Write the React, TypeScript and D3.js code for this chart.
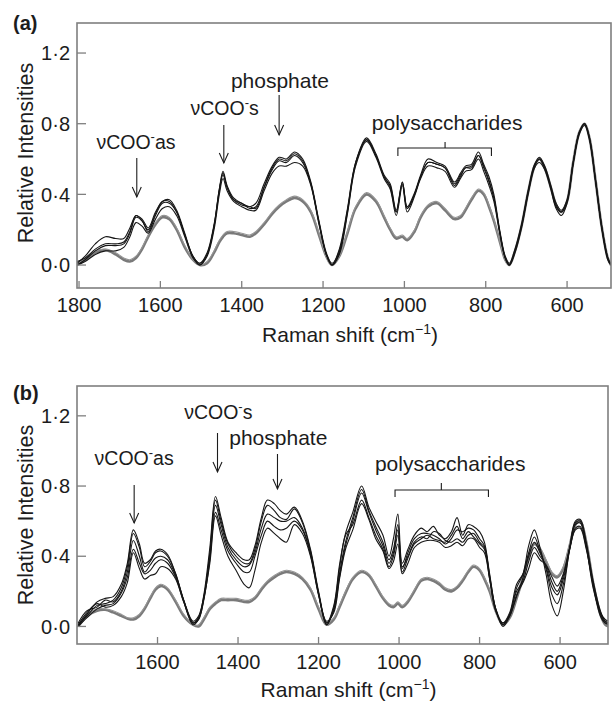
import React from 'react';
import * as d3 from 'd3';

// ---------- Panel (a) data ----------
const A_X = [
  1805, 1785, 1760, 1735, 1710, 1690, 1675, 1660, 1645, 1630,
  1612, 1595, 1578, 1560, 1540, 1520, 1503, 1485, 1468, 1455,
  1446, 1436, 1420, 1400, 1380, 1365, 1345, 1325, 1308, 1290,
  1270, 1250, 1230, 1210, 1192, 1178, 1160, 1140, 1120, 1093,
  1070, 1050, 1035, 1020, 1005, 993, 975, 960, 942, 920,
  900, 877, 862, 850, 835, 818, 805, 792, 780, 765,
  752, 742, 728, 712, 695, 680, 668, 655, 640, 627,
  614, 600, 585, 570, 557, 545, 530, 515, 500, 492,
];
const A_BLACK_1 = [
  0.00, 0.03, 0.08, 0.11, 0.11, 0.12, 0.18, 0.27, 0.25, 0.19,
  0.28, 0.35, 0.35, 0.30, 0.17, 0.05, 0.00, 0.06, 0.22, 0.42,
  0.52, 0.44, 0.37, 0.35, 0.32, 0.33, 0.44, 0.54, 0.59, 0.58,
  0.62, 0.58, 0.46, 0.24, 0.06, 0.00, 0.07, 0.30, 0.57, 0.71,
  0.62, 0.50, 0.45, 0.30, 0.47, 0.32, 0.40, 0.50, 0.58, 0.57,
  0.55, 0.45, 0.50, 0.55, 0.55, 0.62, 0.55, 0.47, 0.38, 0.18,
  0.04, 0.00, 0.08, 0.22, 0.42, 0.56, 0.60, 0.55, 0.44, 0.34,
  0.30, 0.36, 0.58, 0.75, 0.80, 0.72, 0.48, 0.22, 0.04, 0.00,
];
const A_BLACK_2 = [
  0.01, 0.05, 0.12, 0.16, 0.15, 0.15, 0.21, 0.28, 0.26, 0.21,
  0.30, 0.36, 0.37, 0.31, 0.18, 0.05, 0.01, 0.07, 0.23, 0.43,
  0.53, 0.45, 0.38, 0.35, 0.33, 0.35, 0.46, 0.56, 0.61, 0.60,
  0.64, 0.60, 0.47, 0.25, 0.07, 0.01, 0.08, 0.31, 0.58, 0.72,
  0.63, 0.51, 0.46, 0.31, 0.47, 0.33, 0.41, 0.51, 0.60, 0.58,
  0.56, 0.47, 0.52, 0.56, 0.57, 0.64, 0.57, 0.50, 0.40, 0.19,
  0.05, 0.01, 0.09, 0.23, 0.43, 0.57, 0.61, 0.56, 0.45, 0.35,
  0.31, 0.37, 0.58, 0.75, 0.80, 0.72, 0.48, 0.22, 0.04, 0.00,
];
const A_BLACK_3 = [
  0.00, 0.02, 0.06, 0.08, 0.08, 0.10, 0.16, 0.24, 0.22, 0.18,
  0.26, 0.32, 0.33, 0.28, 0.16, 0.04, 0.00, 0.05, 0.20, 0.40,
  0.49, 0.42, 0.36, 0.33, 0.31, 0.31, 0.42, 0.52, 0.56, 0.56,
  0.58, 0.56, 0.45, 0.23, 0.06, 0.00, 0.06, 0.29, 0.56, 0.70,
  0.61, 0.49, 0.43, 0.28, 0.45, 0.30, 0.39, 0.49, 0.56, 0.55,
  0.53, 0.44, 0.49, 0.53, 0.54, 0.60, 0.53, 0.45, 0.36, 0.17,
  0.04, 0.00, 0.07, 0.21, 0.41, 0.55, 0.58, 0.54, 0.43, 0.32,
  0.28, 0.35, 0.57, 0.74, 0.79, 0.71, 0.47, 0.21, 0.03, 0.00,
];
const A_BLACK_4 = [
  0.02, 0.04, 0.09, 0.12, 0.12, 0.13, 0.19, 0.28, 0.25, 0.20,
  0.29, 0.36, 0.36, 0.30, 0.17, 0.05, 0.01, 0.06, 0.22, 0.43,
  0.51, 0.44, 0.37, 0.34, 0.33, 0.32, 0.44, 0.55, 0.60, 0.59,
  0.63, 0.59, 0.46, 0.24, 0.06, 0.00, 0.09, 0.32, 0.58, 0.71,
  0.62, 0.50, 0.44, 0.30, 0.46, 0.32, 0.40, 0.50, 0.58, 0.57,
  0.55, 0.46, 0.51, 0.55, 0.56, 0.62, 0.56, 0.48, 0.38, 0.18,
  0.04, 0.00, 0.08, 0.22, 0.42, 0.56, 0.60, 0.55, 0.44, 0.33,
  0.30, 0.36, 0.58, 0.75, 0.80, 0.72, 0.48, 0.22, 0.04, 0.00,
];
const A_GRAY_1 = [
  0.00, 0.03, 0.07, 0.085, 0.06, 0.03, 0.02, 0.04, 0.09, 0.16,
  0.23, 0.27, 0.26, 0.20, 0.10, 0.03, 0.00, 0.01, 0.07, 0.13,
  0.16, 0.18, 0.18, 0.17, 0.16, 0.18, 0.23, 0.29, 0.33, 0.36,
  0.38, 0.36, 0.30, 0.17, 0.05, 0.00, 0.05, 0.18, 0.32, 0.40,
  0.36, 0.27, 0.20, 0.15, 0.16, 0.14, 0.19, 0.27, 0.33, 0.35,
  0.31, 0.26, 0.27, 0.31, 0.37, 0.42, 0.40, 0.33, 0.25, 0.13,
  0.03, 0.00, 0.08, 0.22, 0.42, 0.56, 0.60, 0.55, 0.44, 0.34,
  0.30, 0.36, 0.58, 0.75, 0.80, 0.72, 0.48, 0.22, 0.04, 0.00,
];
const A_GRAY_2 = [
  0.01, 0.04, 0.08, 0.09, 0.07, 0.04, 0.03, 0.05, 0.10, 0.17,
  0.24, 0.28, 0.27, 0.21, 0.11, 0.03, 0.00, 0.02, 0.08, 0.14,
  0.17, 0.19, 0.19, 0.18, 0.17, 0.19, 0.24, 0.30, 0.34, 0.37,
  0.39, 0.37, 0.31, 0.18, 0.05, 0.00, 0.05, 0.19, 0.33, 0.41,
  0.37, 0.28, 0.21, 0.16, 0.17, 0.15, 0.20, 0.28, 0.34, 0.36,
  0.32, 0.27, 0.28, 0.32, 0.38, 0.43, 0.41, 0.34, 0.26, 0.13,
  0.03, 0.00, 0.08, 0.22, 0.42, 0.56, 0.60, 0.55, 0.44, 0.34,
  0.30, 0.36, 0.58, 0.75, 0.80, 0.72, 0.48, 0.22, 0.04, 0.00,
];

// ---------- Panel (b) data ----------
const B_X = [
  1797, 1775, 1750, 1730, 1710, 1690, 1675, 1660, 1645, 1632,
  1618, 1605, 1592, 1575, 1555, 1535, 1512, 1498, 1485, 1470,
  1456, 1442, 1425, 1405, 1385, 1372, 1358, 1342, 1327, 1310,
  1295, 1280, 1260, 1240, 1220, 1200, 1180, 1162, 1148, 1133,
  1115, 1093, 1075, 1058, 1040, 1025, 1014, 1003, 992, 978,
  962, 945, 930, 915, 900, 885, 870, 856, 842, 828,
  815, 800, 788, 775, 760, 742, 725, 708, 692, 678,
  664, 650, 635, 620, 607, 592, 576, 562, 550, 535,
  518, 500, 488, 479,
];
const B_BLACK_1 = [
  0.00, 0.07, 0.14, 0.16, 0.17, 0.24, 0.36, 0.55, 0.47, 0.36,
  0.38, 0.43, 0.44, 0.41, 0.30, 0.15, 0.02, 0.05, 0.18, 0.45,
  0.74, 0.62, 0.48, 0.42, 0.38, 0.38, 0.46, 0.62, 0.72, 0.70,
  0.66, 0.64, 0.68, 0.60, 0.44, 0.20, 0.02, 0.12, 0.35, 0.53,
  0.65, 0.80, 0.68, 0.60, 0.52, 0.40, 0.50, 0.64, 0.36, 0.44,
  0.52, 0.56, 0.54, 0.57, 0.52, 0.50, 0.54, 0.62, 0.52, 0.58,
  0.57, 0.54, 0.48, 0.30, 0.10, 0.01, 0.07, 0.22, 0.30, 0.46,
  0.55, 0.45, 0.30, 0.12, 0.06, 0.20, 0.45, 0.60, 0.61, 0.48,
  0.25, 0.08, 0.03, 0.02,
];
const B_BLACK_2 = [
  0.01, 0.06, 0.12, 0.13, 0.15, 0.22, 0.34, 0.53, 0.45, 0.34,
  0.37, 0.42, 0.43, 0.40, 0.30, 0.15, 0.02, 0.04, 0.16, 0.42,
  0.72, 0.60, 0.47, 0.40, 0.36, 0.36, 0.44, 0.60, 0.69, 0.66,
  0.62, 0.61, 0.67, 0.59, 0.43, 0.19, 0.01, 0.10, 0.30, 0.48,
  0.62, 0.78, 0.66, 0.57, 0.48, 0.38, 0.44, 0.58, 0.33, 0.42,
  0.50, 0.53, 0.53, 0.52, 0.50, 0.47, 0.50, 0.55, 0.54, 0.56,
  0.55, 0.50, 0.46, 0.29, 0.10, 0.00, 0.06, 0.17, 0.28, 0.42,
  0.51, 0.43, 0.33, 0.18, 0.13, 0.24, 0.44, 0.59, 0.60, 0.47,
  0.26, 0.09, 0.03, 0.02,
];
const B_BLACK_3 = [
  0.02, 0.09, 0.11, 0.15, 0.14, 0.20, 0.31, 0.49, 0.40, 0.31,
  0.35, 0.39, 0.40, 0.38, 0.29, 0.15, 0.03, 0.06, 0.17, 0.40,
  0.69, 0.58, 0.45, 0.38, 0.34, 0.35, 0.42, 0.56, 0.64, 0.62,
  0.60, 0.60, 0.62, 0.56, 0.42, 0.19, 0.02, 0.09, 0.28, 0.46,
  0.60, 0.76, 0.65, 0.55, 0.46, 0.36, 0.42, 0.55, 0.34, 0.40,
  0.48, 0.51, 0.50, 0.54, 0.53, 0.49, 0.48, 0.50, 0.48, 0.52,
  0.53, 0.48, 0.45, 0.28, 0.09, 0.02, 0.08, 0.24, 0.30, 0.40,
  0.48, 0.42, 0.34, 0.22, 0.18, 0.27, 0.45, 0.58, 0.59, 0.46,
  0.24, 0.07, 0.02, 0.01,
];
const B_BLACK_4 = [
  0.00, 0.05, 0.10, 0.12, 0.13, 0.19, 0.28, 0.44, 0.36, 0.30,
  0.32, 0.36, 0.38, 0.36, 0.28, 0.14, 0.01, 0.04, 0.15, 0.38,
  0.65, 0.55, 0.43, 0.36, 0.31, 0.31, 0.40, 0.52, 0.60, 0.57,
  0.55, 0.56, 0.60, 0.55, 0.41, 0.18, 0.01, 0.11, 0.33, 0.52,
  0.58, 0.72, 0.62, 0.52, 0.44, 0.34, 0.40, 0.52, 0.31, 0.39,
  0.47, 0.50, 0.52, 0.50, 0.49, 0.48, 0.52, 0.57, 0.50, 0.54,
  0.51, 0.47, 0.44, 0.27, 0.10, 0.01, 0.07, 0.20, 0.26, 0.37,
  0.45, 0.40, 0.35, 0.25, 0.20, 0.29, 0.44, 0.56, 0.57, 0.45,
  0.22, 0.08, 0.04, 0.03,
];
const B_BLACK_5 = [
  0.01, 0.08, 0.13, 0.11, 0.12, 0.17, 0.25, 0.42, 0.33, 0.27,
  0.29, 0.30, 0.34, 0.33, 0.27, 0.14, 0.02, 0.05, 0.16, 0.36,
  0.63, 0.52, 0.40, 0.32, 0.24, 0.22, 0.32, 0.48, 0.56, 0.53,
  0.50, 0.48, 0.58, 0.53, 0.40, 0.18, 0.03, 0.08, 0.27, 0.44,
  0.55, 0.70, 0.61, 0.50, 0.43, 0.33, 0.37, 0.47, 0.30, 0.36,
  0.45, 0.48, 0.49, 0.49, 0.48, 0.45, 0.46, 0.48, 0.46, 0.50,
  0.50, 0.45, 0.42, 0.27, 0.09, 0.02, 0.06, 0.18, 0.25, 0.33,
  0.42, 0.38, 0.35, 0.28, 0.23, 0.30, 0.45, 0.55, 0.56, 0.44,
  0.24, 0.06, 0.02, 0.02,
];
const B_GRAY_1 = [
  0.00, 0.06, 0.09, 0.095, 0.08, 0.06, 0.045, 0.04, 0.06, 0.10,
  0.16, 0.21, 0.23, 0.21, 0.14, 0.06, 0.01, 0.00, 0.04, 0.10,
  0.13, 0.15, 0.15, 0.15, 0.14, 0.14, 0.16, 0.21, 0.25, 0.28,
  0.30, 0.31, 0.30, 0.27, 0.21, 0.10, 0.01, 0.04, 0.11, 0.19,
  0.27, 0.31, 0.29, 0.23, 0.16, 0.12, 0.11, 0.13, 0.11, 0.14,
  0.20, 0.26, 0.27, 0.26, 0.24, 0.21, 0.20, 0.22, 0.26, 0.31,
  0.34, 0.32, 0.27, 0.20, 0.09, 0.01, 0.05, 0.16, 0.28, 0.40,
  0.47, 0.44, 0.37, 0.30, 0.28, 0.33, 0.46, 0.58, 0.60, 0.48,
  0.25, 0.07, 0.01, 0.00,
];
const B_GRAY_2 = [
  0.01, 0.07, 0.10, 0.10, 0.09, 0.07, 0.05, 0.05, 0.07, 0.11,
  0.17, 0.22, 0.24, 0.22, 0.15, 0.07, 0.01, 0.01, 0.05, 0.11,
  0.14, 0.16, 0.16, 0.16, 0.15, 0.15, 0.17, 0.22, 0.26, 0.29,
  0.31, 0.32, 0.31, 0.28, 0.22, 0.11, 0.02, 0.05, 0.12, 0.20,
  0.28, 0.32, 0.30, 0.24, 0.17, 0.13, 0.12, 0.14, 0.12, 0.15,
  0.21, 0.27, 0.28, 0.27, 0.25, 0.22, 0.21, 0.23, 0.27, 0.32,
  0.35, 0.33, 0.28, 0.21, 0.10, 0.02, 0.06, 0.17, 0.29, 0.41,
  0.48, 0.45, 0.38, 0.31, 0.29, 0.34, 0.47, 0.59, 0.61, 0.49,
  0.26, 0.08, 0.02, 0.01,
];

// ---------- Ticks ----------
const Y_TICKS = [0, 0.4, 0.8, 1.2];
const Y_TICK_LABELS = ['0·0', '0·4', '0·8', '1·2'];
const A_X_TICKS = [1800, 1600, 1400, 1200, 1000, 800, 600];
const B_X_TICKS = [1600, 1400, 1200, 1000, 800, 600];

const FONT = "'Liberation Sans', Arial, Helvetica, sans-serif";
const FRAME = '#7f7f7f';
const INK = '#1c1c1c';

type Arrow = { cm: number; y1: number; y2: number };
type Ann = { cm: number; y: number; kind: 'as' | 's' | 'text'; text?: string };
type Bracket = { cm1: number; cm2: number; cmMid: number; y: number; yEnd: number; yTop: number };

type PanelCfg = {
  letter: string;
  letterY: number;
  left: number; right: number; top: number; bottom: number;
  xDomain: [number, number];
  yDomain: [number, number];
  xs: number[];
  blacks: number[][];
  grays: number[][];
  xTicks: number[];
  tickLabelY: number;
  xTitleY: number;
  yTitleMid: number;
  anns: Ann[];
  arrows: Arrow[];
  bracket: Bracket;
};

function Panel({ cfg }: { cfg: PanelCfg }) {
  const x = d3.scaleLinear().domain(cfg.xDomain).range([cfg.left, cfg.right]);
  const y = d3.scaleLinear().domain(cfg.yDomain).range([cfg.bottom, cfg.top]);
  const mk = (vals: number[]) =>
    d3
      .line<number>()
      .x((_, i) => x(cfg.xs[i]))
      .y((v) => y(v))
      .curve(d3.curveCatmullRom.alpha(0.5))(vals) || '';
  const cx = (cfg.left + cfg.right) / 2;
  return (
    <g fontFamily={FONT}>
      <defs>
        <clipPath id={'clip' + cfg.letter}>
          <rect x={cfg.left} y={cfg.top} width={cfg.right - cfg.left} height={cfg.bottom - cfg.top} />
        </clipPath>
      </defs>
      <text x={13} y={cfg.letterY} fontSize={20} fontWeight="bold" fill={INK}>
        ({cfg.letter})
      </text>
      <g clipPath={`url(#clip${cfg.letter})`}>
        {cfg.grays.map((g, i) => (
          <path key={'g' + i} d={mk(g)} fill="none" stroke={i === 0 ? '#7a7a7a' : '#959595'} strokeWidth={i === 0 ? 2.6 : 1.1} />
        ))}
        {cfg.blacks.map((b, i) => (
          <path key={'b' + i} d={mk(b)} fill="none" stroke="#161616" strokeWidth={1.1} />
        ))}
      </g>
      <rect x={cfg.left} y={cfg.top} width={cfg.right - cfg.left} height={cfg.bottom - cfg.top} fill="none" stroke={FRAME} strokeWidth={1.6} />
      {Y_TICKS.map((t, i) => (
        <g key={'yt' + t}>
          <line x1={cfg.left} x2={cfg.left + 9} y1={y(t)} y2={y(t)} stroke={FRAME} strokeWidth={1.3} />
          <text x={70} y={y(t)} dy="0.36em" textAnchor="end" fontSize={20} fill={INK}>
            {Y_TICK_LABELS[i]}
          </text>
        </g>
      ))}
      {cfg.xTicks.map((t) => (
        <g key={'xt' + t}>
          <line x1={x(t)} x2={x(t)} y1={cfg.bottom} y2={cfg.bottom - 7} stroke={FRAME} strokeWidth={1.3} />
          <text x={x(t)} y={cfg.tickLabelY} textAnchor="middle" fontSize={20} fill={INK}>
            {t}
          </text>
        </g>
      ))}
      <text
        transform={`translate(33,${cfg.yTitleMid}) rotate(-90)`}
        textAnchor="middle"
        fontSize={21.5}
        fill={INK}
      >
        Relative Intensities
      </text>
      <text x={cx + 6} y={cfg.xTitleY} textAnchor="middle" fontSize={21} fill={INK}>
        Raman shift (cm
        <tspan dy={-8} fontSize={14}>−1</tspan>
        <tspan dy={8}>)</tspan>
      </text>
      {cfg.anns.map((a, i) =>
        a.kind === 'text' ? (
          <text key={'an' + i} x={x(a.cm)} y={a.y} textAnchor="middle" fontSize={21} fill={INK}>
            {a.text}
          </text>
        ) : (
          <text key={'an' + i} x={x(a.cm)} y={a.y} textAnchor="middle" fontSize={19.5} fill={INK}>
            νCOO
            <tspan dy={-8} fontSize={13}>-</tspan>
            <tspan dy={8}>{a.kind}</tspan>
          </text>
        )
      )}
      {cfg.arrows.map((a, i) => {
        const ax = x(a.cm);
        return (
          <g key={'ar' + i} stroke={INK} strokeWidth={1.1} fill="none">
            <line x1={ax} x2={ax} y1={a.y1} y2={a.y2} />
            <path d={`M${ax - 4.5},${a.y2 - 10} L${ax},${a.y2} L${ax + 4.5},${a.y2 - 10}`} />
          </g>
        );
      })}
      <path
        d={`M${x(cfg.bracket.cm1)},${cfg.bracket.yEnd} L${x(cfg.bracket.cm1)},${cfg.bracket.y} L${x(cfg.bracket.cm2)},${cfg.bracket.y} L${x(cfg.bracket.cm2)},${cfg.bracket.yEnd} M${x(cfg.bracket.cmMid)},${cfg.bracket.y} L${x(cfg.bracket.cmMid)},${cfg.bracket.yTop}`}
        fill="none"
        stroke={INK}
        strokeWidth={1.1}
      />
    </g>
  );
}

const PANEL_A: PanelCfg = {
  letter: 'a',
  letterY: 30,
  left: 77, right: 611, top: 23, bottom: 288,
  xDomain: [1805, 492],
  yDomain: [-0.13, 1.37],
  xs: A_X,
  blacks: [A_BLACK_1, A_BLACK_2, A_BLACK_3, A_BLACK_4],
  grays: [A_GRAY_1, A_GRAY_2],
  xTicks: A_X_TICKS,
  tickLabelY: 312,
  xTitleY: 342,
  yTitleMid: 153,
  anns: [
    { cm: 1660, y: 149, kind: 'as' },
    { cm: 1442, y: 115, kind: 's' },
    { cm: 1306, y: 88, kind: 'text', text: 'phosphate' },
    { cm: 895, y: 130, kind: 'text', text: 'polysaccharides' },
  ],
  arrows: [
    { cm: 1658, y1: 158, y2: 197 },
    { cm: 1444, y1: 125, y2: 163 },
    { cm: 1308, y1: 95, y2: 135 },
  ],
  bracket: { cm1: 1016, cm2: 786, cmMid: 900, y: 148, yEnd: 156, yTop: 142 },
};

const PANEL_B: PanelCfg = {
  letter: 'b',
  letterY: 400,
  left: 77, right: 608, top: 386, bottom: 644,
  xDomain: [1800, 481],
  yDomain: [-0.1, 1.37],
  xs: B_X,
  blacks: [B_BLACK_1, B_BLACK_2, B_BLACK_3, B_BLACK_4, B_BLACK_5],
  grays: [B_GRAY_1, B_GRAY_2],
  xTicks: B_X_TICKS,
  tickLabelY: 669,
  xTitleY: 697,
  yTitleMid: 515,
  anns: [
    { cm: 1658, y: 465, kind: 'as' },
    { cm: 1449, y: 419, kind: 's' },
    { cm: 1300, y: 445, kind: 'text', text: 'phosphate' },
    { cm: 873, y: 471, kind: 'text', text: 'polysaccharides' },
  ],
  arrows: [
    { cm: 1658, y1: 485, y2: 523 },
    { cm: 1451, y1: 433, y2: 472 },
    { cm: 1302, y1: 454, y2: 489 },
  ],
  bracket: { cm1: 1010, cm2: 778, cmMid: 895, y: 490, yEnd: 497, yTop: 483 },
};

export default function App() {
  return (
    <svg
      width={616}
      height={704}
      viewBox="0 0 616 704"
      style={{ position: 'absolute', left: 0, top: 0, background: '#fff' }}
    >
      <rect x={0} y={0} width={616} height={704} fill="#fff" />
      <Panel cfg={PANEL_A} />
      <Panel cfg={PANEL_B} />
    </svg>
  );
}
